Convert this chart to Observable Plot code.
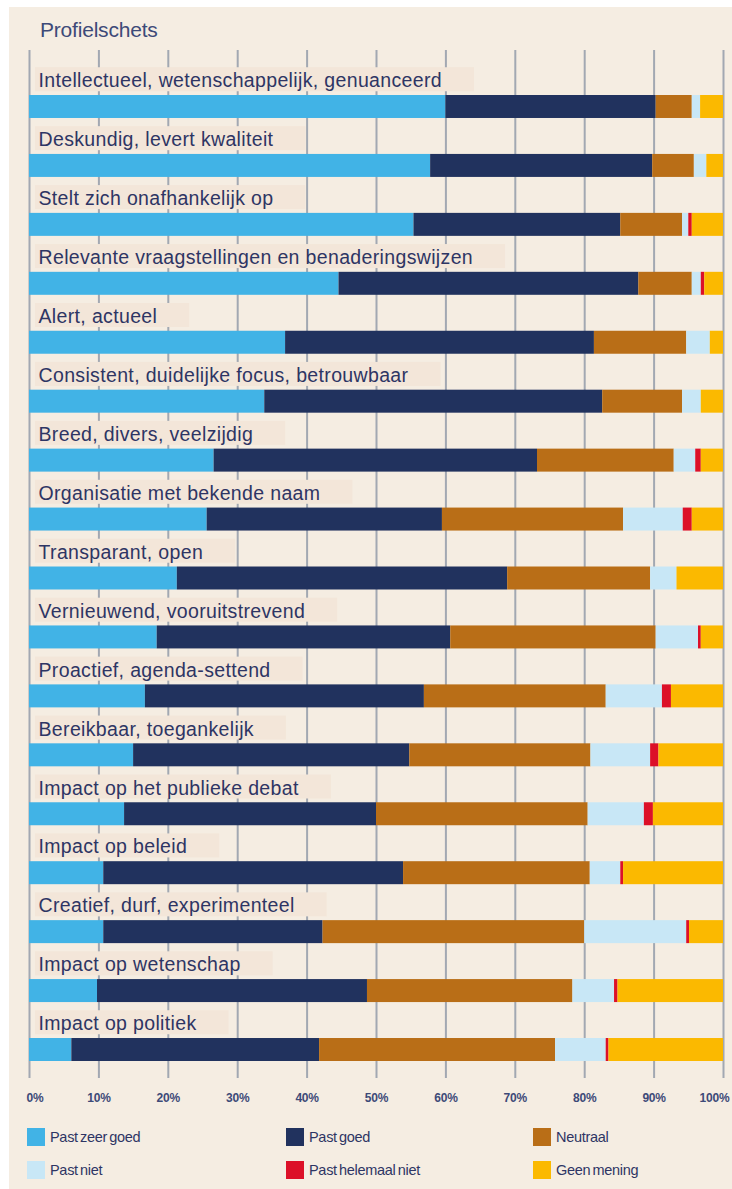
<!DOCTYPE html>
<html><head><meta charset="utf-8">
<script src="https://cdn.jsdelivr.net/npm/d3@7"></script>
<script src="https://cdn.jsdelivr.net/npm/@observablehq/plot@0.6"></script>
<style>
html,body{margin:0;padding:0;background:#fff;}
body{width:732px;height:1189px;position:relative;overflow:hidden;font-family:"Liberation Sans",Arial,sans-serif;}
#panel{position:absolute;left:9px;top:7px;width:723px;height:1182px;background:#f5ede2;}
#title{position:absolute;left:40px;top:18px;font-size:21px;color:#3d4a78;line-height:24px;letter-spacing:-0.2px;}
#chart{position:absolute;left:0;top:0;}
.cat-label text{letter-spacing:0.35px;}
.tick-label text{letter-spacing:-0.2px;}
.legend-item{position:absolute;display:flex;align-items:center;font-size:14.5px;color:#2e3564;word-spacing:-1.5px;letter-spacing:-0.3px;}
.sw{width:18px;height:18px;margin-right:5px;flex:none;}
</style></head><body>
<div id="panel"></div>
<div id="title">Profielschets</div>
<div id="chart"></div>
<div id="legend"></div>
<script>
const labels = [
  "Intellectueel, wetenschappelijk, genuanceerd",
  "Deskundig, levert kwaliteit",
  "Stelt zich onafhankelijk op",
  "Relevante vraagstellingen en benaderingswijzen",
  "Alert, actueel",
  "Consistent, duidelijke focus, betrouwbaar",
  "Breed, divers, veelzijdig",
  "Organisatie met bekende naam",
  "Transparant, open",
  "Vernieuwend, vooruitstrevend",
  "Proactief, agenda-settend",
  "Bereikbaar, toegankelijk",
  "Impact op het publieke debat",
  "Impact op beleid",
  "Creatief, durf, experimenteel",
  "Impact op wetenschap",
  "Impact op politiek"
];
const seriesNames = ["Past zeer goed","Past goed","Neutraal","Past niet","Past helemaal niet","Geen mening"];
const colors = ["#41b3e6","#21325e","#b96e17","#c8e7f6","#dc1028","#fbb900"];

const pastZeerGoed     = [60.0, 57.8, 55.4, 44.6, 36.9, 33.9, 26.6, 25.6, 21.3, 18.4, 16.7, 15.0, 13.7, 10.7, 10.7,  9.8,  6.1];
const pastGoed         = [30.3, 32.0, 29.8, 43.2, 44.5, 48.7, 46.6, 33.9, 47.6, 42.3, 40.2, 39.8, 36.3, 43.2, 31.6, 38.9, 35.7];
const neutraal         = [ 5.2,  6.0,  8.9,  7.7, 13.3, 11.5, 19.7, 26.1, 20.6, 29.6, 26.2, 26.1, 30.5, 26.9, 37.7, 29.6, 34.0];
const pastNiet         = [ 1.2,  1.8,  0.9,  1.3,  3.4,  2.7,  3.1,  8.6,  3.8,  6.1,  8.1,  8.6,  8.1,  4.4, 14.7,  6.0,  7.3];
const pastHelemaalNiet = [ 0.0,  0.0,  0.5,  0.5,  0.0,  0.0,  0.8,  1.3,  0.0,  0.4,  1.3,  1.2,  1.3,  0.4,  0.4,  0.5,  0.4];
const geenMening       = [ 3.3,  2.4,  4.5,  2.7,  1.9,  3.2,  3.2,  4.5,  6.7,  3.2,  7.5,  9.3, 10.1, 14.4,  4.9, 15.2, 16.5];

const tickValues = [0,10,20,30,40,50,60,70,80,90,100];

const seriesValues = [pastZeerGoed, pastGoed, neutraal, pastNiet, pastHelemaalNiet, geenMening];
const rows = [];
labels.forEach((label, i) => {
  seriesNames.forEach((s, j) => rows.push({label, series: s, value: seriesValues[j][i]}));
});

const tickText = (data, anchor, dx) => Plot.text(data, {
  x: d => d, text: d => d + "%", frameAnchor: "bottom", dy: 23, dx,
  textAnchor: anchor, fontSize: 12, fontWeight: "bold", fill: "#3d4a78", className: "tick-label"
});

const chart = Plot.plot({
  width: 732,
  height: 1120,
  marginLeft: 29,
  marginRight: 9,
  marginTop: 50,
  marginBottom: 42,
  style: {background: "transparent", overflow: "visible", fontFamily: "'Liberation Sans', Arial, sans-serif"},
  x: {domain: [0, 100], axis: null},
  y: {domain: labels, range: [95, 1061], paddingInner: 0.61, paddingOuter: 0, round: false, axis: null},
  color: {domain: seriesNames, range: colors},
  marks: [
    Plot.ruleX(tickValues, {x: d => d, stroke: "#a2a8b2", strokeWidth: 2}),
    Plot.barX(rows, Plot.stackX({y: "label", x: "value", fill: "series", order: null})),
    Plot.text(labels, {
      y: d => d, x: 0, dx: 9, dy: -26, text: d => d, textAnchor: "start",
      fontSize: 19.5, fill: "#2e3564", className: "cat-label"
    }),
    tickText([0], "start", -3),
    tickText(tickValues.slice(1, -1), "middle", 0),
    tickText([100], "end", 6)
  ]
});
document.getElementById("chart").append(chart);

// faint label bands behind the category labels (they hide the gridlines there)
const ns = "http://www.w3.org/2000/svg";
const labelG = chart.querySelector("g.cat-label");
if (labelG) {
  const boxG = document.createElementNS(ns, "g");
  labelG.parentNode.insertBefore(boxG, labelG);
  const svgRect = chart.getBoundingClientRect();
  labelG.querySelectorAll("text").forEach(t => {
    const b = t.getBoundingClientRect();
    const r = document.createElementNS(ns, "rect");
    const x0 = 35;
    const x1 = b.right - svgRect.left + 32;
    r.setAttribute("x", x0);
    r.setAttribute("y", b.top - svgRect.top - 2);
    r.setAttribute("width", x1 - x0);
    r.setAttribute("height", b.height + 2);
    r.setAttribute("fill", "#f3e6d9");
    boxG.append(r);
  });
}

// legend
const legend = document.getElementById("legend");
const legendLeft = [27, 286, 533];
const legendTop = [1128, 1161];
seriesNames.forEach((s, i) => {
  const item = document.createElement("div");
  item.className = "legend-item";
  item.style.left = legendLeft[i % 3] + "px";
  item.style.top = legendTop[Math.floor(i / 3)] + "px";
  const sw = document.createElement("div");
  sw.className = "sw";
  sw.style.background = colors[i];
  const tx = document.createElement("span");
  tx.textContent = s;
  item.append(sw, tx);
  legend.append(item);
});
</script>
</body></html>
